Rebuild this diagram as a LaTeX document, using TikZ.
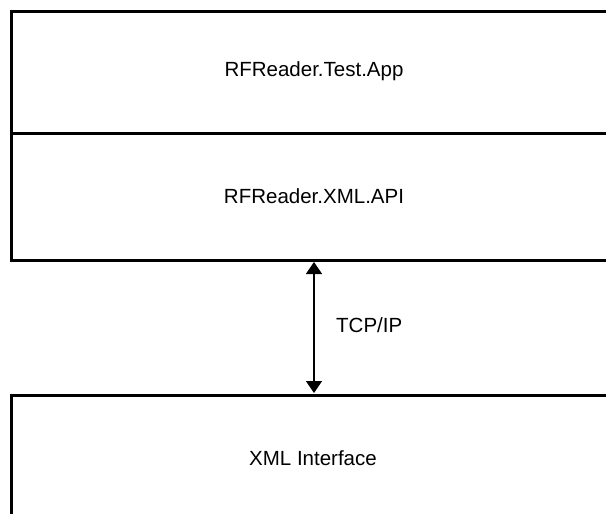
\documentclass[tikz,border=0pt]{standalone}
\usepackage{fontspec}
\setmainfont{Liberation Sans}
\usetikzlibrary{arrows.meta}
\begin{document}
\begin{tikzpicture}[x=1pt,y=-1pt,
  frame/.style={line width=3pt,line cap=butt},
  lbl/.style={font=\fontsize{20.5}{24}\selectfont,inner sep=0pt},
  link/.style={line width=1.3pt,{Triangle[length=12pt,width=16pt]}-{Triangle[length=12pt,width=16pt]}}]
\useasboundingbox (0,0) rectangle (606,514);
% top stacked boxes (open to the right)
\draw[frame] (610,11.5) -- (11.5,11.5) -- (11.5,260) -- (610,260);
\draw[frame] (11.5,133) -- (610,133);
% bottom box (open to the right and bottom)
\draw[frame] (610,395.5) -- (11.5,395.5) -- (11.5,520);
\node[lbl] (app) at (314,71) {RFReader.Test.App};
\node[lbl] (api) at (314,196) {RFReader.XML.API};
\node[lbl] (xml) at (313,458) {XML Interface};
\coordinate (top) at (314,262);
\coordinate (bot) at (314,393);
\draw[link] (top) -- (bot);
\node[lbl,anchor=west] (tcp) at (336,325) {TCP/IP};
\end{tikzpicture}
\end{document}
